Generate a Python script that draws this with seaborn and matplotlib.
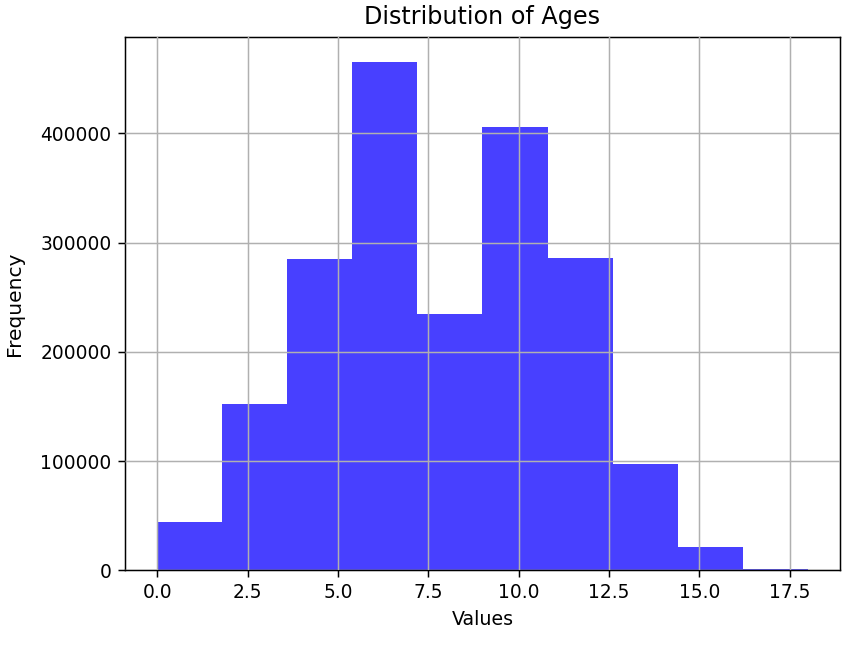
import matplotlib
matplotlib.use("Agg")
import matplotlib.pyplot as plt
import seaborn as sns
import numpy as np
import pandas as pd

bin_edges = [0.0, 1.8, 3.6, 5.4, 7.2, 9.0, 10.8, 12.6, 14.4, 16.2, 18.0]
counts = [43900, 152000, 284700, 465000, 234300, 405500, 285600, 97000, 21000, 1200]

centers = [(a + b) / 2 for a, b in zip(bin_edges[:-1], bin_edges[1:])]
df = pd.DataFrame({"Values": centers, "count": counts})

plt.rcParams["font.family"] = ["DejaVu Sans"]

DPI = 860 / 6.4
fig, ax = plt.subplots(figsize=(6.4, 648 / DPI), dpi=DPI)
fig.subplots_adjust(left=0.145, right=0.977, top=0.943, bottom=0.12)

sns.histplot(data=df, x="Values", weights="count", bins=bin_edges,
             color="#4840ff", alpha=1.0, linewidth=0, ax=ax)

ax.grid(True, color="#b0b0b0", linewidth=0.8)
ax.set_axisbelow(False)
ax.set_title("Distribution of Ages", fontsize=12.8, pad=7)
ax.set_xlabel("Values", fontsize=10.2)
ax.set_ylabel("Frequency", fontsize=10.8, labelpad=9)
ax.tick_params(labelsize=10)
ax.margins(x=0.05, y=0.05)

fig.savefig("out.png", dpi=DPI)
